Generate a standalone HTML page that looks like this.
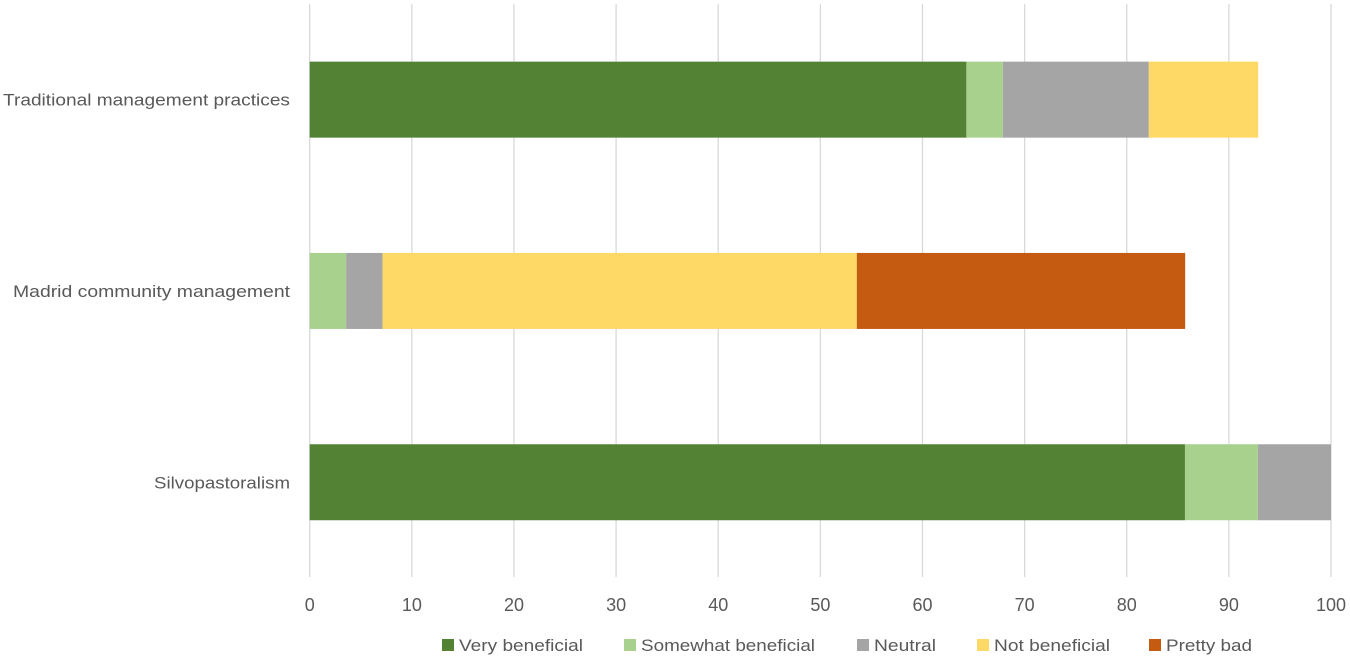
<!DOCTYPE html>
<html lang="en">
<head>
<meta charset="utf-8">
<title>Stacked bar chart</title>
<style>
html,body{margin:0;padding:0;background:#fff;}
svg{display:block;}
text{font-family:"Liberation Sans",sans-serif;fill:#595959;font-size:17px;}
text.tick{font-size:18px;}
</style>
</head>
<body>
<svg id="chart" width="1350" height="658" viewBox="0 0 1350 658" xmlns="http://www.w3.org/2000/svg"></svg>
<script>
const categories = ["Traditional management practices", "Madrid community management", "Silvopastoralism"];
const seriesNames = ["Very beneficial", "Somewhat beneficial", "Neutral", "Not beneficial", "Pretty bad"];
const veryBeneficial = [64.3, 0, 85.7];
const somewhatBeneficial = [3.57, 3.57, 7.14];
const neutral = [14.29, 3.57, 7.16];
const notBeneficial = [10.71, 46.43, 0];
const prettyBad = [0, 32.15, 0];
const xTicks = [0, 10, 20, 30, 40, 50, 60, 70, 80, 90, 100];
const seriesValues = [veryBeneficial, somewhatBeneficial, neutral, notBeneficial, prettyBad];
const seriesColors = ["#548235", "#A9D18E", "#A5A5A5", "#FFD966", "#C55A11"];
const categoryLabelWidths = [287, 277, 136];
const legendLabelWidths = [124, 174, 62, 116, 86];

const svg = document.getElementById('chart');
const NS = 'http://www.w3.org/2000/svg';
const plot = {left: 309.7, right: 1331, top: 4, bottom: 577, bandTop: 4, bandH: 191.3, barH: 76};
const xScale = v => plot.left + (plot.right - plot.left) * v / 100;
const bandCenter = i => plot.bandTop + plot.bandH * (i + 0.5);

function make(tag, attrs, parent) {
  const el = document.createElementNS(NS, tag);
  for (const k in attrs) el.setAttribute(k, attrs[k]);
  (parent || svg).appendChild(el);
  return el;
}

xTicks.forEach(t => {
  const line = make('line', {x1: xScale(t), x2: xScale(t), y1: plot.top, y2: plot.bottom, stroke: '#D9D9D9', 'stroke-width': 1.3});
  
  
  const label = make('text', {x: xScale(t), y: 611, 'text-anchor': 'middle', class: 'tick'});
  label.textContent = t;
  
  
});

categories.forEach((c, i) => {
  const label = make('text', {x: 290, y: bandCenter(i) + 6, 'text-anchor': 'end', textLength: categoryLabelWidths[i], lengthAdjust: 'spacingAndGlyphs'});
  label.textContent = c;
  
  
  let acc = 0;
  seriesValues.forEach((vals, s) => {
    const v = vals[i];
    if (v > 0) {
      const bar = make('rect', {x: xScale(acc), y: bandCenter(i) - plot.barH / 2, width: xScale(acc + v) - xScale(acc), height: plot.barH, fill: seriesColors[s]});
      
      
    }
    acc += v;
  });
});

let legendX = 442;
const legendGaps = [182, 233, 120, 172, 0];
seriesNames.forEach((n, s) => {
  const swatch = make('rect', {x: legendX, y: 639, width: 12, height: 12, fill: seriesColors[s]});
  
  
  const label = make('text', {x: legendX + 17, y: 651, textLength: legendLabelWidths[s], lengthAdjust: 'spacingAndGlyphs'});
  label.textContent = n;
  
  
  legendX += legendGaps[s];
});
</script>
</body>
</html>
